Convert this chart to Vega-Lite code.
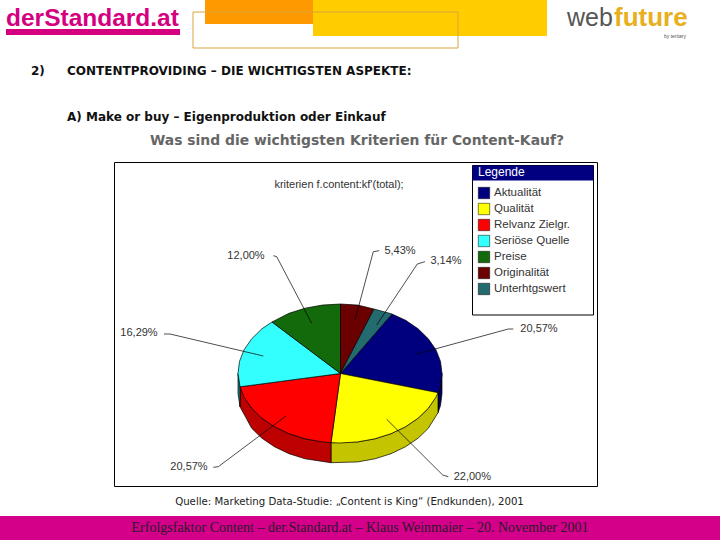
{
  "$schema": "https://vega.github.io/schema/vega-lite/v6.json",
  "autosize": {"type": "fit", "contains": "padding"},
  "padding": 0,
  "width": 720,
  "height": 540,
  "background": "white",
  "config": {"view": {"stroke": null}},
  "datasets": {
    "pie": [
      {"slice":"Aktualität","i":0,"x":340.5,"y":373.5},{"slice":"Aktualität","i":1,"x":392,"y":314},{"slice":"Aktualität","i":2,"x":405.6,"y":320.3},{"slice":"Aktualität","i":3,"x":418.1,"y":328.8},{"slice":"Aktualität","i":4,"x":428.3,"y":338.8},{"slice":"Aktualität","i":5,"x":435.9,"y":349.7},{"slice":"Aktualität","i":6,"x":440.5,"y":361.4},{"slice":"Aktualität","i":7,"x":442,"y":373.5},{"slice":"Aktualität","i":8,"x":440.5,"y":385.6},{"slice":"Aktualität","i":9,"x":438,"y":392.7},
      {"slice":"Qualität","i":0,"x":340.5,"y":373.5},{"slice":"Qualität","i":1,"x":438,"y":392.7},{"slice":"Qualität","i":2,"x":435.9,"y":397.3},{"slice":"Qualität","i":3,"x":428.3,"y":408.3},{"slice":"Qualität","i":4,"x":418.1,"y":418.2},{"slice":"Qualität","i":5,"x":405.6,"y":426.7},{"slice":"Qualität","i":6,"x":391,"y":433.7},{"slice":"Qualität","i":7,"x":374.9,"y":438.8},{"slice":"Qualität","i":8,"x":357.7,"y":441.9},{"slice":"Qualität","i":9,"x":340,"y":443},{"slice":"Qualität","i":10,"x":331,"y":442.7},
      {"slice":"Relvanz Zielgr.","i":0,"x":340.5,"y":373.5},{"slice":"Relvanz Zielgr.","i":1,"x":331,"y":442.7},{"slice":"Relvanz Zielgr.","i":2,"x":322.3,"y":441.9},{"slice":"Relvanz Zielgr.","i":3,"x":305.1,"y":438.8},{"slice":"Relvanz Zielgr.","i":4,"x":289,"y":433.7},{"slice":"Relvanz Zielgr.","i":5,"x":274.4,"y":426.7},{"slice":"Relvanz Zielgr.","i":6,"x":261.9,"y":418.2},{"slice":"Relvanz Zielgr.","i":7,"x":251.7,"y":408.3},{"slice":"Relvanz Zielgr.","i":8,"x":244.1,"y":397.3},{"slice":"Relvanz Zielgr.","i":9,"x":240,"y":386.8},
      {"slice":"Seriöse Quelle","i":0,"x":340.5,"y":373.5},{"slice":"Seriöse Quelle","i":1,"x":240,"y":386.8},{"slice":"Seriöse Quelle","i":2,"x":238,"y":373.5},{"slice":"Seriöse Quelle","i":3,"x":239.5,"y":361.4},{"slice":"Seriöse Quelle","i":4,"x":244.1,"y":349.7},{"slice":"Seriöse Quelle","i":5,"x":251.7,"y":338.8},{"slice":"Seriöse Quelle","i":6,"x":261.9,"y":328.8},{"slice":"Seriöse Quelle","i":7,"x":272,"y":322},
      {"slice":"Preise","i":0,"x":340.5,"y":373.5},{"slice":"Preise","i":1,"x":272,"y":322},{"slice":"Preise","i":2,"x":289,"y":313.3},{"slice":"Preise","i":3,"x":305.1,"y":308.2},{"slice":"Preise","i":4,"x":322.3,"y":305.1},{"slice":"Preise","i":5,"x":340.5,"y":304},
      {"slice":"Originalität","i":0,"x":340.5,"y":373.5},{"slice":"Originalität","i":1,"x":340.5,"y":304},{"slice":"Originalität","i":2,"x":357.7,"y":305.1},{"slice":"Originalität","i":3,"x":374,"y":309},
      {"slice":"Unterhtgswert","i":0,"x":340.5,"y":373.5},{"slice":"Unterhtgswert","i":1,"x":374,"y":309},{"slice":"Unterhtgswert","i":2,"x":392,"y":314}
    ],
    "wall": [
      {"slice":"Aktualität","i":0,"x":442,"y":373.5},{"slice":"Aktualität","i":1,"x":440.5,"y":385.6},{"slice":"Aktualität","i":2,"x":438,"y":392.7},{"slice":"Aktualität","i":3,"x":438,"y":412.7},{"slice":"Aktualität","i":4,"x":440.5,"y":405.6},{"slice":"Aktualität","i":5,"x":442,"y":393.5},
      {"slice":"Qualität","i":0,"x":438,"y":392.7},{"slice":"Qualität","i":1,"x":428.3,"y":408.3},{"slice":"Qualität","i":2,"x":418.1,"y":418.2},{"slice":"Qualität","i":3,"x":405.6,"y":426.7},{"slice":"Qualität","i":4,"x":391,"y":433.7},{"slice":"Qualität","i":5,"x":374.9,"y":438.8},{"slice":"Qualität","i":6,"x":357.7,"y":441.9},{"slice":"Qualität","i":7,"x":331,"y":442.7},{"slice":"Qualität","i":8,"x":331,"y":462.7},{"slice":"Qualität","i":9,"x":357.7,"y":461.9},{"slice":"Qualität","i":10,"x":374.9,"y":458.8},{"slice":"Qualität","i":11,"x":391,"y":453.7},{"slice":"Qualität","i":12,"x":405.6,"y":446.7},{"slice":"Qualität","i":13,"x":418.1,"y":438.2},{"slice":"Qualität","i":14,"x":428.3,"y":428.3},{"slice":"Qualität","i":15,"x":438,"y":412.7},
      {"slice":"Relvanz Zielgr.","i":0,"x":331,"y":442.7},{"slice":"Relvanz Zielgr.","i":1,"x":305.1,"y":438.8},{"slice":"Relvanz Zielgr.","i":2,"x":289,"y":433.7},{"slice":"Relvanz Zielgr.","i":3,"x":274.4,"y":426.7},{"slice":"Relvanz Zielgr.","i":4,"x":261.9,"y":418.2},{"slice":"Relvanz Zielgr.","i":5,"x":251.7,"y":408.3},{"slice":"Relvanz Zielgr.","i":6,"x":240,"y":386.8},{"slice":"Relvanz Zielgr.","i":7,"x":240,"y":406.8},{"slice":"Relvanz Zielgr.","i":8,"x":251.7,"y":428.3},{"slice":"Relvanz Zielgr.","i":9,"x":261.9,"y":438.2},{"slice":"Relvanz Zielgr.","i":10,"x":274.4,"y":446.7},{"slice":"Relvanz Zielgr.","i":11,"x":289,"y":453.7},{"slice":"Relvanz Zielgr.","i":12,"x":305.1,"y":458.8},{"slice":"Relvanz Zielgr.","i":13,"x":331,"y":462.7},
      {"slice":"Seriöse Quelle","i":0,"x":240,"y":386.8},{"slice":"Seriöse Quelle","i":1,"x":238,"y":373.5},{"slice":"Seriöse Quelle","i":2,"x":238,"y":393.5},{"slice":"Seriöse Quelle","i":3,"x":240,"y":406.8}
    ],
    "leaders": [
      {"to":"12,00%","i":0,"x":273.3,"y":255.7},{"to":"12,00%","i":1,"x":276.7,"y":256.7},{"to":"12,00%","i":2,"x":311.7,"y":323.3},
      {"to":"5,43%","i":0,"x":379.3,"y":250.7},{"to":"5,43%","i":1,"x":373.3,"y":251.7},{"to":"5,43%","i":2,"x":355,"y":320},
      {"to":"3,14%","i":0,"x":425,"y":261.7},{"to":"3,14%","i":1,"x":417.3,"y":264},{"to":"3,14%","i":2,"x":376.7,"y":325},
      {"to":"20,57% a","i":0,"x":513.3,"y":329},{"to":"20,57% a","i":1,"x":508.3,"y":329},{"to":"20,57% a","i":2,"x":416.7,"y":354},
      {"to":"22,00%","i":0,"x":448.3,"y":476.7},{"to":"22,00%","i":1,"x":442.7,"y":475},{"to":"22,00%","i":2,"x":386.7,"y":419.3},
      {"to":"20,57% b","i":0,"x":213.3,"y":467.3},{"to":"20,57% b","i":1,"x":218.3,"y":466.7},{"to":"20,57% b","i":2,"x":286,"y":416},
      {"to":"16,29%","i":0,"x":164,"y":334},{"to":"16,29%","i":1,"x":170,"y":334},{"to":"16,29%","i":2,"x":263.3,"y":356}
    ],
    "shares": [
      {"slice":"Aktualität","share":20.57,"label":"20,57%","x":539,"y":329},
      {"slice":"Qualität","share":22.0,"label":"22,00%","x":472.3,"y":477.3},
      {"slice":"Relvanz Zielgr.","share":20.57,"label":"20,57%","x":189,"y":466.7},
      {"slice":"Seriöse Quelle","share":16.29,"label":"16,29%","x":139,"y":333.3},
      {"slice":"Preise","share":12.0,"label":"12,00%","x":246,"y":256},
      {"slice":"Originalität","share":5.43,"label":"5,43%","x":400,"y":250.7},
      {"slice":"Unterhtgswert","share":3.14,"label":"3,14%","x":446,"y":261}
    ]
  },
  "encoding": {
    "x": {"field": "x", "type": "quantitative", "axis": null, "scale": {"domain": [0, 720], "range": [0, 720], "nice": false, "zero": false}},
    "y": {"field": "y", "type": "quantitative", "axis": null, "scale": {"domain": [0, 540], "range": [0, 540], "nice": false, "zero": false}}
  },
  "layer": [
    {
      "data": {"values": [{"x":205,"x2":313,"y":0,"y2":24}]},
      "mark": {"type": "rect", "fill": "#ff9900"},
      "encoding": {"x2": {"field": "x2"}, "y2": {"field": "y2"}}
    },
    {
      "data": {"values": [{"x":313,"x2":547,"y":0,"y2":36}]},
      "mark": {"type": "rect", "fill": "#ffcc00"},
      "encoding": {"x2": {"field": "x2"}, "y2": {"field": "y2"}}
    },
    {
      "data": {"values": [{"x":193,"x2":458,"y":12,"y2":48}]},
      "mark": {"type": "rect", "fill": null, "stroke": "#d9a63a", "strokeWidth": 1},
      "encoding": {"x2": {"field": "x2"}, "y2": {"field": "y2"}}
    },
    {
      "data": {"values": [{"x":6,"x2":180,"y":29,"y2":35}]},
      "mark": {"type": "rect", "fill": "#d4007f"},
      "encoding": {"x2": {"field": "x2"}, "y2": {"field": "y2"}}
    },
    {
      "data": {"values": [{"x":0,"x2":720,"y":516,"y2":540}]},
      "mark": {"type": "rect", "fill": "#d4008a"},
      "encoding": {"x2": {"field": "x2"}, "y2": {"field": "y2"}}
    },
    {
      "data": {"values": [{"x":114.5,"x2":597.5,"y":162.5,"y2":486.5}]},
      "mark": {"type": "rect", "fill": "white", "stroke": "black", "strokeWidth": 1},
      "encoding": {"x2": {"field": "x2"}, "y2": {"field": "y2"}}
    },
    {
      "data": {"values": [{"x":472.5,"x2":593.5,"y":165.5,"y2":315}]},
      "mark": {"type": "rect", "fill": "white", "stroke": "black", "strokeWidth": 1},
      "encoding": {"x2": {"field": "x2"}, "y2": {"field": "y2"}}
    },
    {
      "data": {"values": [{"x":472.5,"x2":593.5,"y":165.5,"y2":180.5}]},
      "mark": {"type": "rect", "fill": "#000080"},
      "encoding": {"x2": {"field": "x2"}, "y2": {"field": "y2"}}
    },
    {
      "data": {"name": "wall"},
      "mark": {"type": "line", "filled": true, "interpolate": "linear-closed", "stroke": "black", "strokeWidth": 0.7},
      "encoding": {
        "order": {"field": "i", "type": "quantitative"},
        "color": {
          "field": "slice",
          "type": "nominal",
          "legend": null,
          "scale": {"domain": ["Aktualität", "Qualität", "Relvanz Zielgr.", "Seriöse Quelle"], "range": ["#00005a", "#c4c400", "#bd0000", "#1a8a8a"]}
        }
      }
    },
    {
      "data": {"name": "pie"},
      "mark": {"type": "line", "filled": true, "interpolate": "linear-closed", "stroke": "black", "strokeWidth": 0.7},
      "encoding": {
        "order": {"field": "i", "type": "quantitative"},
        "color": {
          "field": "slice",
          "type": "nominal",
          "scale": {
            "domain": ["Aktualität", "Qualität", "Relvanz Zielgr.", "Seriöse Quelle", "Preise", "Originalität", "Unterhtgswert"],
            "range": ["#00007f", "#ffff00", "#ff0000", "#33ffff", "#136a0a", "#6b0000", "#236b6e"]
          },
          "legend": {
            "orient": "none",
            "legendX": 478,
            "legendY": 167,
            "title": "Legende",
            "titleColor": "white",
            "titleFont": "Liberation Sans",
            "titleFontSize": 12,
            "titleFontWeight": "normal",
            "titlePadding": 8,
            "labelFont": "Liberation Sans",
            "labelFontSize": 11.5,
            "labelColor": "#333333",
            "labelOffset": 4,
            "symbolType": "square",
            "symbolSize": 130,
            "symbolStrokeColor": "black",
            "symbolStrokeWidth": 0.5,
            "rowPadding": 2,
            "values": ["Aktualität", "Qualität", "Relvanz Zielgr.", "Seriöse Quelle", "Preise", "Originalität", "Unterhtgswert"]
          }
        }
      }
    },
    {
      "data": {"name": "leaders"},
      "mark": {"type": "line", "color": "black", "strokeWidth": 0.7},
      "encoding": {"detail": {"field": "to"}, "order": {"field": "i", "type": "quantitative"}}
    },
    {
      "data": {"name": "shares"},
      "mark": {"type": "text", "font": "Liberation Sans", "fontSize": 11, "color": "#333333"},
      "encoding": {"text": {"field": "label"}}
    },
    {
      "data": {"values": [{"x":339,"y":185,"label":"kriterien f.content:kf'(total);"}]},
      "mark": {"type": "text", "font": "Liberation Sans", "fontSize": 11, "color": "#333333"},
      "encoding": {"text": {"field": "label"}}
    },
    {
      "data": {"values": [{"x":6,"y":19,"label":"derStandard.at"}]},
      "mark": {"type": "text", "align": "left", "font": "Liberation Sans", "fontWeight": "bold", "fontSize": 24.5, "color": "#d4007f"},
      "encoding": {"text": {"field": "label"}}
    },
    {
      "data": {"values": [{"x":567,"y":18,"label":"web"}]},
      "mark": {"type": "text", "align": "left", "font": "Liberation Sans", "fontSize": 25, "color": "#555555"},
      "encoding": {"text": {"field": "label"}}
    },
    {
      "data": {"values": [{"x":614,"y":18,"label":"future"}]},
      "mark": {"type": "text", "align": "left", "font": "Liberation Sans", "fontWeight": "bold", "fontSize": 26, "color": "#e8b020"},
      "encoding": {"text": {"field": "label"}}
    },
    {
      "data": {"values": [{"x":675,"y":36,"label":"by tertiary"}]},
      "mark": {"type": "text", "font": "Liberation Sans", "fontSize": 5, "color": "#555555"},
      "encoding": {"text": {"field": "label"}}
    },
    {
      "data": {"values": [
        {"x":31,"y":71,"label":"2)"},
        {"x":67,"y":71,"label":"CONTENTPROVIDING – DIE WICHTIGSTEN ASPEKTE:"},
        {"x":67,"y":117,"label":"A) Make or buy – Eigenproduktion oder Einkauf"}
      ]},
      "mark": {"type": "text", "align": "left", "font": "DejaVu Sans", "fontWeight": "bold", "fontSize": 12, "color": "#111111"},
      "encoding": {"text": {"field": "label"}}
    },
    {
      "data": {"values": [{"x":357,"y":141,"label":"Was sind die wichtigsten Kriterien für Content-Kauf?"}]},
      "mark": {"type": "text", "font": "DejaVu Sans", "fontWeight": "bold", "fontSize": 13.9, "color": "#666666"},
      "encoding": {"text": {"field": "label"}}
    },
    {
      "data": {"values": [{"x":349.5,"y":502,"label":"Quelle: Marketing Data-Studie: „Content is King“ (Endkunden), 2001"}]},
      "mark": {"type": "text", "font": "DejaVu Sans", "fontSize": 10.2, "color": "#222222"},
      "encoding": {"text": {"field": "label"}}
    },
    {
      "data": {"values": [{"x":360,"y":528,"label":"Erfolgsfaktor Content – der.Standard.at – Klaus Weinmaier – 20. November 2001"}]},
      "mark": {"type": "text", "font": "Liberation Serif", "fontSize": 14, "color": "#2a1a2a"},
      "encoding": {"text": {"field": "label"}}
    }
  ],
  "resolve": {"scale": {"color": "independent"}}
}
